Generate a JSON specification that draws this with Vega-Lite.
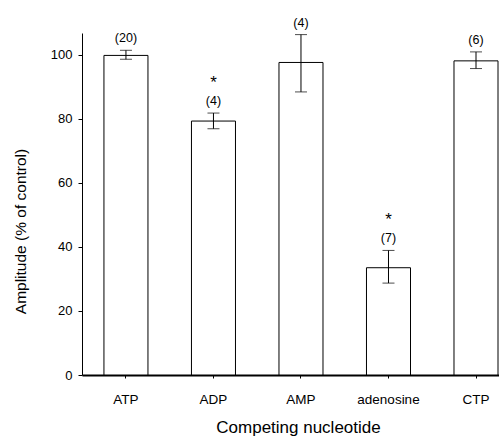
{
  "$schema": "https://vega.github.io/schema/vega-lite/v6.json",
  "autosize": "none",
  "width": 417,
  "height": 342,
  "padding": {"left": 82, "top": 33, "right": 0, "bottom": 64},
  "background": "white",
  "config": {
    "view": {"stroke": null},
    "font": "Liberation Sans",
    "axis": {"domainColor": "black", "tickColor": "black", "labelColor": "black", "titleColor": "black", "grid": false, "labelFont": "Liberation Sans", "titleFont": "Liberation Sans", "titleFontWeight": "normal"}
  },
  "data": {
    "values": [
      {"name": "ATP", "val": 99.8, "lo": 98.6, "hi": 101.4, "n": "(20)", "sig": ""},
      {"name": "ADP", "val": 79.3, "lo": 76.9, "hi": 81.8, "n": "(4)", "sig": "*"},
      {"name": "AMP", "val": 97.6, "lo": 88.4, "hi": 106.3, "n": "(4)", "sig": ""},
      {"name": "adenosine", "val": 33.5, "lo": 28.7, "hi": 38.9, "n": "(7)", "sig": "*"},
      {"name": "CTP", "val": 98.1, "lo": 95.7, "hi": 100.9, "n": "(6)", "sig": ""}
    ]
  },
  "encoding": {
    "x": {
      "field": "name", "type": "nominal", "sort": null,
      "scale": {"paddingInner": 0.497, "paddingOuter": 0.131, "align": 0.957},
      "axis": {"title": "Competing nucleotide", "labelAngle": 0, "labelFontSize": 13.5, "tickSize": 3, "labelPadding": 14, "domainWidth": 2, "titleFontSize": 17, "titleX": 216, "titleY": 52, "titleBaseline": "middle", "titleAnchor": "middle", "titleAlign": "center"}
    }
  },
  "layer": [
    {
      "mark": {"type": "bar", "fill": "white", "stroke": "black", "strokeWidth": 1},
      "encoding": {
        "y": {
          "field": "val", "type": "quantitative",
          "scale": {"domain": [0, 106.8], "nice": false},
          "axis": {"values": [0, 20, 40, 60, 80, 100], "title": "Amplitude (% of control)", "labelFontSize": 13, "tickSize": 4, "labelPadding": 6, "titleFontSize": 15.5, "titleX": -62, "titleY": 198, "titleBaseline": "middle", "titleAngle": -90, "titleAlign": "center"}
        }
      }
    },
    {
      "mark": {"type": "rule", "color": "black", "strokeWidth": 1},
      "encoding": {"y": {"field": "lo", "type": "quantitative"}, "y2": {"field": "hi"}}
    },
    {
      "mark": {"type": "tick", "color": "black", "size": 12, "thickness": 1},
      "encoding": {"y": {"field": "lo", "type": "quantitative"}}
    },
    {
      "mark": {"type": "tick", "color": "black", "size": 12, "thickness": 1},
      "encoding": {"y": {"field": "hi", "type": "quantitative"}}
    },
    {
      "mark": {"type": "text", "fontSize": 12.5, "dy": -12, "baseline": "middle", "color": "black"},
      "encoding": {"y": {"field": "hi", "type": "quantitative"}, "text": {"field": "n"}}
    },
    {
      "transform": [{"filter": "datum.sig != ''"}],
      "mark": {"type": "text", "fontSize": 17, "dy": -30, "baseline": "middle", "color": "black"},
      "encoding": {"y": {"field": "hi", "type": "quantitative"}, "text": {"field": "sig"}}
    }
  ]
}
